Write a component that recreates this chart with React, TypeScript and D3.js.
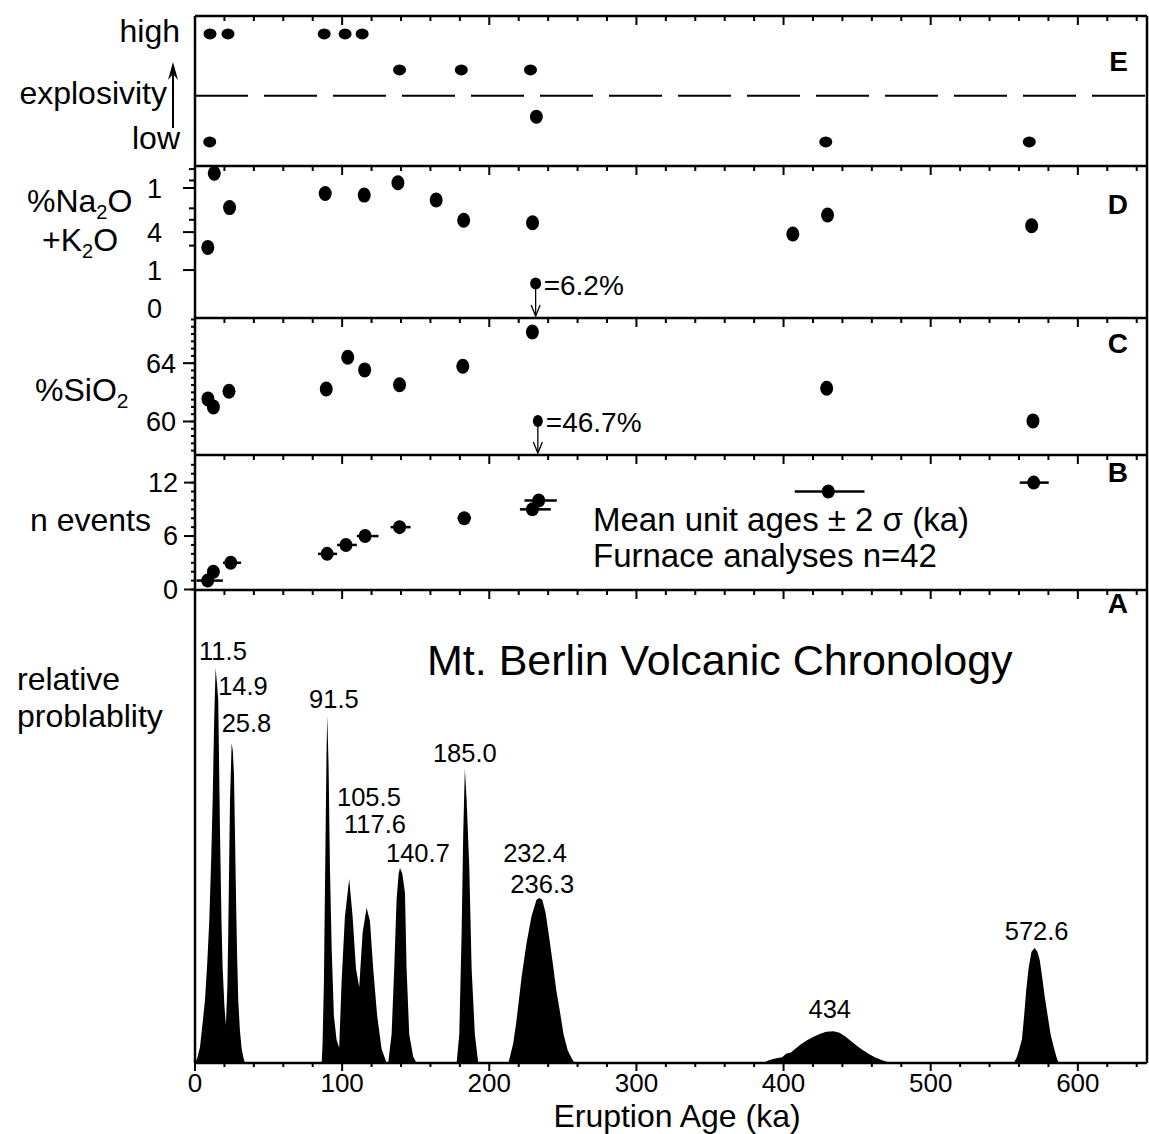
import * as d3 from 'd3';

// ---------- data ----------
const AGE_MAX = 647;
const AGE_TICKS = [0, 100, 200, 300, 400, 500, 600];

// E: explosivity (4 = high, 1 = low)
const E_AGE = [10.2, 22.4, 87.8, 102, 113.6, 139, 181, 228, 232, 10, 428.7, 567];
const E_LEVEL = [4, 4, 4, 4, 4, 3, 3, 3, 1.7, 1, 1, 1];
const E_DIVIDE = 2.28;

// D: %Na2O + K2O (axis is square-root spaced)
const D_AGE = [8.7, 13.1, 23.5, 88.5, 115, 137.9, 163.9, 182.6, 229.4, 406.3, 429.9, 568.6];
const D_VALUE = [2.55, 12.6, 7.0, 9.1, 8.85, 10.9, 8.1, 5.35, 5.05, 3.8, 6.0, 4.7];
const D_OUT_AGE = 231.5;
const D_OUT_VALUE = 0.42;
const D_OUT_LABEL = '=6.2%';
const D_TICKS = [0, 1, 4, 10];
const D_TICK_LABELS = ['0', '1', '4', '1'];
const D_MINOR = [2.7, 5.4, 6.9, 11.3, 13.4];

// C: %SiO2
const C_AGE = [8.8, 12.5, 23.1, 89.2, 103.8, 115.3, 139, 182, 229.3, 429.3, 569.5];
const C_VALUE = [61.55, 61.0, 62.07, 62.23, 64.41, 63.54, 62.52, 63.79, 66.14, 62.28, 60.04];
const C_OUT_AGE = 233;
const C_OUT_VALUE = 60.04;
const C_OUT_LABEL = '=46.7%';
const C_TICKS = [60, 64];

// B: cumulative number of events, mean age with 2 sigma range
const B_AGE = [8.6, 12.5, 24.3, 89.8, 102.6, 115.6, 139, 183, 229.3, 233.6, 430.4, 570];
const B_N = [1, 2, 3, 4, 5, 6, 7, 8, 9, 10, 11, 12];
const B_LO = [1, 10, 19, 83.6, 96.5, 110, 132.9, 178.4, 220.8, 223.9, 407.6, 560.5];
const B_HI = [19, 16, 31.3, 96.5, 110, 124.7, 146.5, 187.5, 241.8, 245.9, 455, 580.2];
const B_TICKS = [0, 6, 12];

// A: relative probability, one outline per group of peaks [age, p]
const PEAKS_0_34: [number, number][] = [
  [0, 0], [1.5, 0.01], [3.4, 0.034], [5, 0.08], [6.8, 0.133], [8.3, 0.21], [9.7, 0.3], [11, 0.43],
  [12, 0.556], [13, 0.72], [14, 0.835], [15, 0.8], [15.8, 0.767], [17, 0.486], [18, 0.3], [18.8, 0.2],
  [20, 0.12], [21, 0.08], [22, 0.16], [22.6, 0.275], [23.2, 0.42], [23.8, 0.556], [24.9, 0.676],
  [25.7, 0.66], [26.5, 0.61], [27.2, 0.48], [27.9, 0.345], [28.6, 0.23], [29.4, 0.133], [30.5, 0.07],
  [31.7, 0.03], [33, 0.01], [34, 0],
];
const PEAKS_86_130: [number, number][] = [
  [86.1, 0], [86.7, 0.042], [87.6, 0.17], [88.5, 0.415], [89.4, 0.66], [89.9, 0.734], [90.8, 0.626],
  [91.7, 0.415], [92.9, 0.24], [94.4, 0.1], [96.2, 0.049], [98, 0.032], [99.6, 0.17], [101.9, 0.31],
  [104.8, 0.389], [107.1, 0.31], [109.4, 0.2], [111.6, 0.16], [113.9, 0.275], [116.6, 0.328],
  [118.9, 0.3], [121.1, 0.2], [123.8, 0.1], [126.8, 0.03], [130.2, 0],
];
const PEAKS_131_151: [number, number][] = [
  [131.3, 0], [133.6, 0.06], [135.4, 0.2], [137, 0.345], [138.4, 0.4], [139.3, 0.412], [140.9, 0.4],
  [142.7, 0.36], [143.8, 0.2], [145.6, 0.06], [148.3, 0.013], [150.6, 0],
];
const PEAKS_178_193: [number, number][] = [
  [177.8, 0], [179.6, 0.06], [181.2, 0.275], [182.3, 0.486], [183.4, 0.622], [184.6, 0.556],
  [186.4, 0.415], [188, 0.2], [190.2, 0.06], [192.5, 0],
];
const PEAKS_213_258: [number, number][] = [
  [213, 0], [216.3, 0.042], [218.5, 0.09], [221.9, 0.18], [225.3, 0.253], [228.7, 0.31],
  [232.1, 0.345], [234, 0.349], [236, 0.345], [238.3, 0.317], [240.5, 0.27], [243.2, 0.21],
  [245.5, 0.155], [248.2, 0.105], [250.5, 0.06], [253.3, 0.027], [256, 0.01], [258, 0],
];
const PEAKS_386_473: [number, number][] = [
  [386, 0], [390, 0.006], [395, 0.01], [399, 0.012], [402, 0.02], [405, 0.022], [408, 0.03],
  [412, 0.04], [416, 0.048], [420, 0.055], [425, 0.062], [429, 0.066], [434, 0.067], [438, 0.064],
  [442, 0.056], [446, 0.046], [450, 0.036], [454, 0.027], [458, 0.019], [462, 0.012], [467, 0.006],
  [473, 0],
];
const PEAKS_556_587: [number, number][] = [
  [556.5, 0], [558.5, 0.012], [560, 0.027], [562, 0.05], [563.5, 0.1], [564.8, 0.15], [566.5, 0.2],
  [568.5, 0.235], [570.7, 0.243], [572.5, 0.235], [574.1, 0.218], [575.8, 0.18], [577.5, 0.14],
  [579.5, 0.1], [581.5, 0.06], [583.5, 0.035], [585.5, 0.012], [587, 0],
];
const PEAK_GROUPS = [PEAKS_0_34, PEAKS_86_130, PEAKS_131_151, PEAKS_178_193, PEAKS_213_258, PEAKS_386_473, PEAKS_556_587];

// peak labels, anchored (centre, baseline) in age / probability units
const PEAK_TEXT = ['11.5', '14.9', '25.8', '91.5', '105.5', '117.6', '140.7', '185.0', '232.4', '236.3', '434', '572.6'];
const PEAK_LABEL_AGE = [19.0, 32.6, 35.0, 94.4, 118.2, 122.3, 151.5, 183.4, 231.1, 236, 431.4, 572];
const PEAK_LABEL_P = [0.852, 0.778, 0.7, 0.751, 0.543, 0.486, 0.425, 0.636, 0.425, 0.359, 0.095, 0.26];

// ---------- layout ----------
const W = 1149;
const H = 1134;
const LEFT = 195;
const RIGHT = 1147;
const E_TOP = 16, E_BOT = 166, D_BOT = 318, C_BOT = 455, B_BOT = 590, A_BOT = 1063;
const FONT = '"Liberation Sans", Arial, Helvetica, sans-serif';
const WORD = 32;
const NUM = 27;

const x = d3.scaleLinear().domain([0, AGE_MAX]).range([LEFT, RIGHT]);
const yE = d3.scaleLinear().domain([0.33, 4.5]).range([E_BOT, E_TOP]);
const yD = d3.scaleSqrt().domain([0, 10]).range([308, 188]);
const yC = d3.scaleLinear().domain([57.7, 67.1]).range([C_BOT, D_BOT]);
const yB = d3.scaleLinear().domain([0, 15.1]).range([589.5, C_BOT]);
const yA = d3.scaleLinear().domain([0, 1]).range([A_BOT, B_BOT]);

const minorAges = d3.range(0, AGE_MAX, 20);

const area = d3
  .area<[number, number]>()
  .x((d) => x(d[0]))
  .y0(yA(0))
  .y1((d) => yA(d[1]));

function TopTicks({ y }: { y: number }) {
  return (
    <g stroke="#000" strokeWidth={2}>
      {minorAges.map((a) => (
        <line key={a} x1={x(a)} x2={x(a)} y1={y} y2={y + (a % 100 === 0 ? 9 : 5)} />
      ))}
    </g>
  );
}

function LeftTicks({ vals, scale, len }: { vals: number[]; scale: (v: number) => number; len: number }) {
  return (
    <g stroke="#000" strokeWidth={2}>
      {vals.map((v, i) => (
        <line key={i} x1={LEFT - len} x2={LEFT} y1={scale(v)} y2={scale(v)} />
      ))}
    </g>
  );
}

function DownArrow({ cx, y1, y2 }: { cx: number; y1: number; y2: number }) {
  return (
    <g stroke="#000" strokeWidth={1.3} fill="none">
      <line x1={cx} x2={cx} y1={y1} y2={y2} />
      <path d={`M${cx - 4.5},${y2 - 11} L${cx},${y2} L${cx + 4.5},${y2 - 11}`} />
    </g>
  );
}

export default function App() {
  const txt = { fontFamily: FONT, fill: '#000' } as const;
  return (
    <svg
      width={W}
      height={H}
      viewBox={`0 0 ${W} ${H}`}
      style={{ position: 'absolute', left: 0, top: 0, background: '#fff' }}
    >
      <rect width={W} height={H} fill="#fff" />

      {/* ---------- panel A: probability ---------- */}
      {PEAK_GROUPS.map((g, i) => (
        <path key={i} d={area(g) || ''} fill="#000" />
      ))}
      {PEAK_TEXT.map((t, i) => (
        <text key={t} x={x(PEAK_LABEL_AGE[i])} y={yA(PEAK_LABEL_P[i])} textAnchor="middle" fontSize={25.5} {...txt}>
          {t}
        </text>
      ))}
      <text x={427} y={675} fontSize={43} {...txt}>Mt. Berlin Volcanic Chronology</text>
      <text x={17} y={690} fontSize={WORD} {...txt}>relative</text>
      <text x={17} y={727} fontSize={WORD} {...txt}>problablity</text>

      {/* bottom axis */}
      <g stroke="#000" strokeWidth={2}>
        {minorAges.map((a) => (
          <line key={a} x1={x(a)} x2={x(a)} y1={A_BOT} y2={A_BOT + (a % 100 === 0 ? 8 : 4)} />
        ))}
      </g>
      {AGE_TICKS.map((a) => (
        <text key={a} x={x(a)} y={1092} textAnchor="middle" fontSize={26} {...txt}>
          {a}
        </text>
      ))}
      <text x={677} y={1127} textAnchor="middle" fontSize={32} {...txt}>Eruption Age (ka)</text>

      {/* ---------- panel B ---------- */}
      <g stroke="#000" strokeWidth={2.5}>
        {B_AGE.map((a, i) => (
          <line key={i} x1={x(B_LO[i])} x2={x(B_HI[i])} y1={yB(B_N[i])} y2={yB(B_N[i])} />
        ))}
      </g>
      {B_AGE.map((a, i) => (
        <ellipse key={i} cx={x(a)} cy={yB(B_N[i])} rx={6.5} ry={7} fill="#000" />
      ))}
      <LeftTicks vals={d3.range(0, 15, 1)} scale={yB} len={4} />
      <LeftTicks vals={B_TICKS} scale={yB} len={11} />
      {B_TICKS.map((v) => (
        <text key={v} x={178} y={yB(v) + 9} textAnchor="end" fontSize={NUM} {...txt}>
          {v}
        </text>
      ))}
      <text x={30} y={531} fontSize={WORD} {...txt}>n events</text>
      <text x={593} y={531} fontSize={33} {...txt}>Mean unit ages ± 2 σ (ka)</text>
      <text x={593} y={567} fontSize={33} {...txt}>Furnace analyses n=42</text>

      {/* ---------- panel C ---------- */}
      {C_AGE.map((a, i) => (
        <ellipse key={i} cx={x(a)} cy={yC(C_VALUE[i])} rx={6.5} ry={7.5} fill="#000" />
      ))}
      <ellipse cx={x(C_OUT_AGE)} cy={yC(C_OUT_VALUE)} rx={5} ry={6} fill="#000" />
      <DownArrow cx={x(C_OUT_AGE)} y1={yC(C_OUT_VALUE)} y2={C_BOT - 2} />
      <text x={x(C_OUT_AGE) + 8} y={yC(C_OUT_VALUE) + 11} fontSize={28} {...txt}>{C_OUT_LABEL}</text>
      <LeftTicks vals={d3.range(58, 67.01, 0.5)} scale={yC} len={4} />
      <LeftTicks vals={C_TICKS} scale={yC} len={12} />
      {C_TICKS.map((v) => (
        <text key={v} x={176} y={yC(v) + 9.5} textAnchor="end" fontSize={NUM} {...txt}>
          {v}
        </text>
      ))}
      <text x={35} y={401} fontSize={WORD} {...txt}>
        %SiO<tspan fontSize={21} dy={7}>2</tspan>
      </text>

      {/* ---------- panel D ---------- */}
      {D_AGE.map((a, i) => (
        <ellipse key={i} cx={x(a)} cy={yD(D_VALUE[i])} rx={6.5} ry={7.5} fill="#000" />
      ))}
      <ellipse cx={x(D_OUT_AGE)} cy={yD(D_OUT_VALUE)} rx={5.5} ry={6} fill="#000" />
      <DownArrow cx={x(D_OUT_AGE)} y1={yD(D_OUT_VALUE)} y2={D_BOT - 2} />
      <text x={x(D_OUT_AGE) + 8} y={yD(D_OUT_VALUE) + 12} fontSize={28} {...txt}>{D_OUT_LABEL}</text>
      <LeftTicks vals={D_MINOR} scale={yD} len={6} />
      <LeftTicks vals={D_TICKS.slice(1)} scale={yD} len={12} />
      {D_TICKS.map((v, i) => (
        <text key={v} x={162} y={yD(v) + 9.5} textAnchor="end" fontSize={NUM} {...txt}>
          {D_TICK_LABELS[i]}
        </text>
      ))}
      <text x={27} y={212} fontSize={WORD} {...txt}>
        %Na<tspan fontSize={20} dy={7}>2</tspan>
        <tspan dy={-7}>O</tspan>
      </text>
      <text x={42} y={251} fontSize={WORD} {...txt}>
        +K<tspan fontSize={20} dy={7}>2</tspan>
        <tspan dy={-7}>O</tspan>
      </text>

      {/* ---------- panel E ---------- */}
      <line x1={LEFT} x2={RIGHT} y1={yE(E_DIVIDE)} y2={yE(E_DIVIDE)} stroke="#000" strokeWidth={2} strokeDasharray="53 16" />
      {E_AGE.map((a, i) => (
        <ellipse key={i} cx={x(a)} cy={yE(E_LEVEL[i])} rx={6.5} ry={E_LEVEL[i] === 1.7 ? 7 : 5.5} fill="#000" />
      ))}
      <text x={180} y={yE(4) + 8} textAnchor="end" fontSize={WORD} {...txt}>high</text>
      <text x={180} y={yE(1) + 7} textAnchor="end" fontSize={WORD} {...txt}>low</text>
      <text x={167} y={104} textAnchor="end" fontSize={WORD} {...txt}>explosivity</text>
      <g stroke="#000" strokeWidth={2}>
        <line x1={173} x2={173} y1={128} y2={66} />
      </g>
      <path d="M168,80 L173,62 L178,80 L173,74 Z" fill="#000" />

      {/* ---------- frames and ticks ---------- */}
      {[E_TOP, E_BOT, D_BOT, C_BOT, B_BOT].map((y) => (
        <TopTicks key={y} y={y} />
      ))}
      <g stroke="#000" strokeWidth={2.5} fill="none">
        {[E_TOP, E_BOT, D_BOT, C_BOT, B_BOT, A_BOT].map((y) => (
          <line key={y} x1={LEFT} x2={RIGHT} y1={y} y2={y} />
        ))}
        <line x1={LEFT} x2={LEFT} y1={E_TOP} y2={A_BOT} />
        <line x1={RIGHT} x2={RIGHT} y1={E_TOP} y2={A_BOT} />
      </g>

      {/* panel letters */}
      {[
        ['E', 71],
        ['D', 214],
        ['C', 353],
        ['B', 482],
        ['A', 613],
      ].map(([l, y]) => (
        <text key={l} x={1128} y={y as number} textAnchor="end" fontSize={28} fontWeight="bold" {...txt}>
          {l}
        </text>
      ))}
    </svg>
  );
}
